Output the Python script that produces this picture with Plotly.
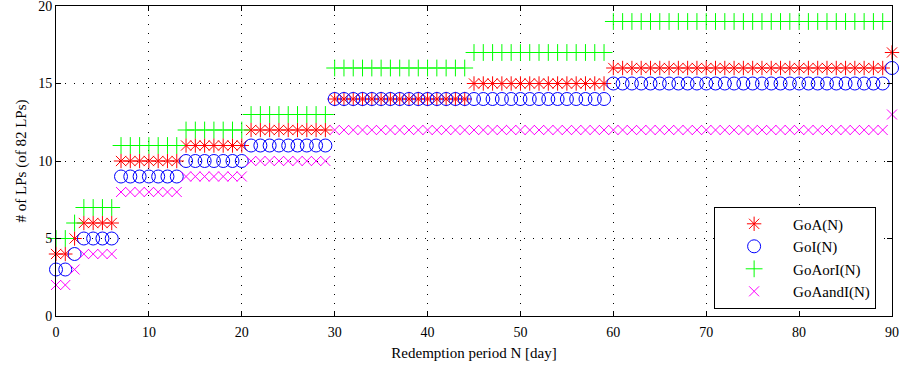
import plotly.graph_objects as go

N = list(range(0, 91))

def steps(segs):
    out = []
    for count, val in segs:
        out += [val] * count
    return out

# values (step per redemption day)
goa = steps([(2, 4), (1, 5), (4, 6), (7, 10), (7, 11), (9, 12), (15, 14), (15, 15), (30, 16), (1, 17)])
goi = steps([(2, 3), (1, 4), (4, 5), (7, 9), (7, 10), (9, 11), (30, 14), (30, 15), (1, 16)])
goaori = steps([(2, 5), (1, 6), (4, 7), (7, 11), (7, 12), (9, 13), (15, 16), (15, 17), (30, 19), (1, None)])
goaandi = steps([(2, 2), (1, 3), (4, 4), (7, 8), (7, 9), (9, 10), (60, 12), (1, 13)])

x_ticks = [0, 10, 20, 30, 40, 50, 60, 70, 80, 90]
y_ticks = [0, 5, 10, 15, 20]

series = [
    ("GoA(N)", goa, "asterisk-open", "#ff0000", 12),
    ("GoI(N)", goi, "circle-open", "#0000ff", 13),
    ("GoAorI(N)", goaori, "cross-thin-open", "#00ff00", 12),
    ("GoAandI(N)", goaandi, "x-thin-open", "#ff00ff", 10),
]

fig = go.Figure()
for name, vals, sym, col, sz in series:
    fig.add_trace(go.Scatter(
        x=N, y=vals, mode="markers", name=name, cliponaxis=False,
        marker=dict(symbol=sym, size=sz, color=col, line=dict(color=col, width=1)),
    ))

fam = "Liberation Serif, Times New Roman, serif"
tick_font = dict(family=fam, size=14, color="black")
title_font = dict(family=fam, size=15, color="black")
axis_common = dict(
    showline=True, linecolor="black", linewidth=1, mirror="ticks",
    ticks="inside", ticklen=5, tickcolor="black",
    showgrid=True, gridcolor="black", gridwidth=1, griddash="1px,8px",
    zeroline=False, tickfont=tick_font, automargin=False,
    ticklabeloverflow="allow",
)
fig.update_xaxes(range=[0, 90], tickvals=x_ticks, ticklabelstandoff=3,
                 title=dict(text="Redemption period N [day]", font=title_font, standoff=8), **axis_common)
fig.update_yaxes(range=[0, 20], tickvals=y_ticks,
                 title=dict(text="# of LPs (of 82 LPs)", font=title_font, standoff=7), **axis_common)

fig.update_layout(
    width=901, height=372,
    margin=dict(l=56, r=9, t=6, b=56),
    paper_bgcolor="white", plot_bgcolor="white",
    font=title_font,
    showlegend=True,
    legend=dict(
        x=0.981, y=0.024, xanchor="right", yanchor="bottom",
        bgcolor="white", bordercolor="black", borderwidth=1,
        font=dict(family=fam, size=15, color="black"), itemwidth=68, tracegroupgap=0,
    ),
)

fig.write_html("out.html", config={"displayModeBar": False},
               post_script="document.body.style.margin='0';")
